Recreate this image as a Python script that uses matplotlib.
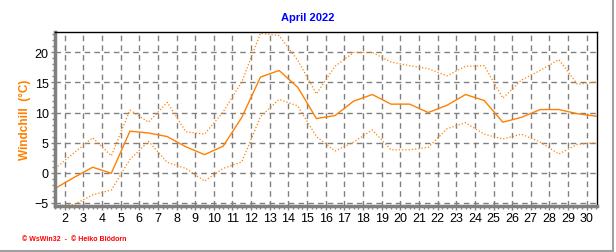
import matplotlib
matplotlib.use("Agg")
import matplotlib.pyplot as plt
from matplotlib.lines import Line2D
from matplotlib.ticker import MultipleLocator

plt.rcParams['font.family'] = ['Liberation Sans', 'DejaVu Sans']

# daily windchill values, April 2022 (days 1..30)
days = list(range(1, 31))
wc_max = [0.7, 3.3, 5.8, 2.8, 10.4, 8.4, 11.7, 6.8, 6.4, 10.1,
          15.1, 23.2, 22.8, 18.7, 13.1, 17.7, 20.0, 20.0, 18.4, 17.8,
          17.3, 16.1, 17.7, 17.8, 12.4, 15.4, 17.0, 18.8, 14.7, 15.1]
wc_mean = [-2.6, -0.8, 0.9, -0.1, 6.9, 6.6, 6.0, 4.3, 3.0, 4.4,
           9.2, 15.9, 17.0, 14.2, 9.0, 9.5, 11.9, 13.0, 11.4, 11.4,
           10.0, 11.2, 13.0, 12.0, 8.4, 9.2, 10.5, 10.5, 9.8, 9.4]
wc_min = [-5.5, -5.3, -3.7, -2.9, 2.2, 5.2, 1.7, 0.7, -1.4, 0.7,
          1.8, 9.3, 12.2, 11.1, 6.0, 3.6, 5.1, 7.1, 3.8, 3.8,
          4.2, 7.3, 8.3, 6.4, 5.6, 6.4, 5.1, 3.1, 4.7, 5.0]
xticks = list(range(2, 31))

orange = '#ff8000'

fig = plt.figure(figsize=(6.16, 2.53), dpi=100)
ax = fig.add_axes([55/616, 1 - 207/253, 542/616, 174/253])

# each day is drawn at its midday position
xpos = [d + 0.5 for d in days]
ax.plot(xpos, wc_max, color=orange, lw=0.9, ls=(0, (1, 1.6)))
ax.plot(xpos, wc_mean, color=orange, lw=1.0, ls='-')
ax.plot(xpos, wc_min, color=orange, lw=0.9, ls=(0, (1, 1.6)))

ax.set_xlim(1.48, 30.55)
ax.set_ylim(-5.55, 23.4)
ax.set_xticks(xticks)
ax.set_xticklabels([str(t) for t in xticks])
ax.xaxis.set_minor_locator(MultipleLocator(0.25))
ax.set_yticks([-5, 0, 5, 10, 15, 20])
ax.yaxis.set_minor_locator(MultipleLocator(1))

ax.grid(True, which='major', color='#808080', ls=(0, (4, 3)), lw=1)
ax.set_axisbelow(True)

for s in ['left', 'bottom']:
    ax.spines[s].set_color('#808080')
    ax.spines[s].set_linewidth(2.5)
for s in ['top', 'right']:
    ax.spines[s].set_color('black')
    ax.spines[s].set_linewidth(1)

ax.tick_params(which='major', direction='out', length=3, width=1, color='#808080',
               labelsize=9, labelcolor='black', pad=1.5)
ax.tick_params(which='minor', direction='out', length=2, width=1, color='#808080')

fig.text(0.5, 1 - 18/253, 'April 2022', color='#0000ff', fontsize=8,
         fontweight='bold', ha='center', va='center')
ax.set_ylabel('Windchill  (°C)', color=orange, fontsize=8.5, fontweight='bold')
ax.yaxis.set_label_coords(-24/542, 0.5)

fig.text(22/616, 1 - 240/253, '© WsWin32  -  © Heiko Blödorn', color='#ff0000',
         fontsize=5, fontweight='bold', va='center', ha='left')

# figure border on right and bottom
fig.add_artist(Line2D([0, 613/616], [1.5/253, 1.5/253], color='#a0a0a0', lw=1.5,
                      transform=fig.transFigure))
fig.add_artist(Line2D([613/616, 613/616], [1.5/253, 1], color='#a0a0a0', lw=1.5,
                      transform=fig.transFigure))

fig.savefig('out.png', dpi=100)
